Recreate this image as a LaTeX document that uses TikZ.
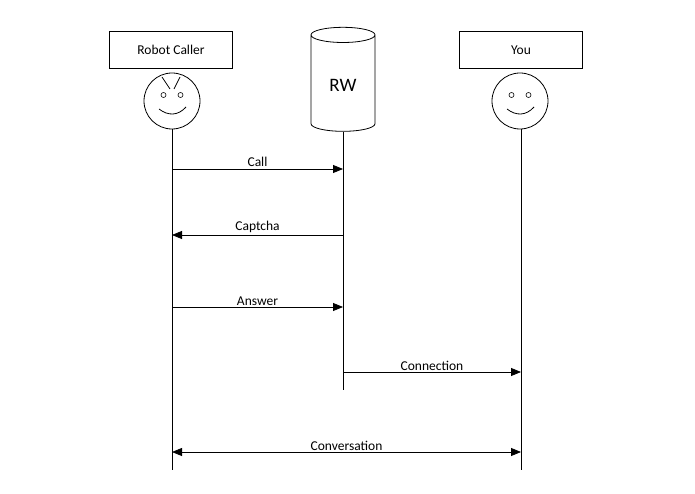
\documentclass[tikz,border=0pt]{standalone}
\usepackage{fontspec}
\setmainfont{Carlito}
\usepackage{tikz}
\usetikzlibrary{positioning, arrows.meta, shapes.geometric}

\begin{document}
\begin{tikzpicture}[x=1pt, y=-1pt, line width=0.8pt, font=\fontsize{13.5}{15}\selectfont,
    >={Triangle[length=10pt, width=8pt]},
    actor/.style={draw, rectangle, minimum width=123pt, minimum height=37pt},
    face/.style={draw, circle, minimum size=56pt, inner sep=0pt},
    msg/.style={->},
    lbl/.style={above, inner sep=1.5pt}]
    \useasboundingbox (0,0) rectangle (695,494);

    \node[actor] (caller) at (171,50) {Robot Caller};
    \node[actor] (you) at (521,50) {You};
    \node[draw, cylinder, shape border rotate=90, aspect=0.45,
          minimum width=64pt, minimum height=104pt, font=\fontsize{19}{21}\selectfont] (rw) at (343,85) {RW};

    \node[face] (fcaller) at (172,101) {};
    \node[face] (fyou) at (520,101) {};

    % faces
    \foreach \f in {fcaller, fyou} {
        \draw[line width=0.6pt] ([shift={(-8.5,-6)}]\f.center) circle (2.5pt);
        \draw[line width=0.6pt] ([shift={(8.5,-6)}]\f.center) circle (2.5pt);
        \draw ([shift={(-13,8)}]\f.center) .. controls ([shift={(-4,15)}]\f.center) and ([shift={(6,15)}]\f.center) .. ([shift={(14,6)}]\f.center);
    }
    \draw ([shift={(-10,-24)}]fcaller.center) -- ([shift={(-2,-12)}]fcaller.center);
    \draw ([shift={(8,-24)}]fcaller.center) -- ([shift={(2,-12)}]fcaller.center);

    % lifelines
    \coordinate (callerEnd) at (172,470);
    \coordinate (rwEnd) at (343,390);
    \coordinate (youEnd) at (521,470);
    \draw (fcaller.south) -- (callerEnd);
    \draw (rw.bottom) -- (rwEnd);
    \draw (fyou.south -| youEnd) -- (youEnd);

    % messages
    \coordinate (call) at (0,169);
    \coordinate (captcha) at (0,235);
    \coordinate (answer) at (0,307);
    \coordinate (conn) at (0,372);
    \coordinate (conv) at (0,452);

    \draw[msg] (callerEnd |- call) -- node[lbl] {Call} (rwEnd |- call);
    \draw[msg] (rwEnd |- captcha) -- node[lbl] {Captcha} (callerEnd |- captcha);
    \draw[msg] (callerEnd |- answer) -- node[lbl] {Answer} (rwEnd |- answer);
    \draw[msg] (rwEnd |- conn) -- node[lbl] {Connection} (youEnd |- conn);
    \draw[<->] (callerEnd |- conv) -- node[lbl] {Conversation} (youEnd |- conv);
\end{tikzpicture}
\end{document}
